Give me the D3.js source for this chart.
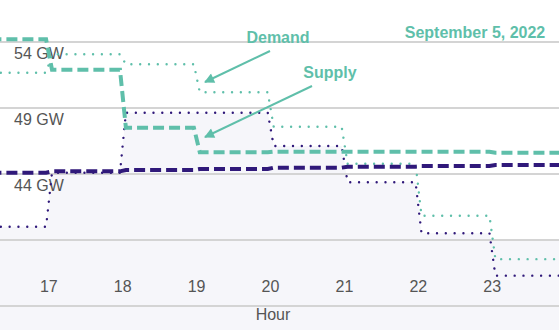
<!DOCTYPE html>
<html>
<head>
<meta charset="utf-8">
<script src="https://cdn.jsdelivr.net/npm/d3@7"></script>
<style>
  html, body { margin: 0; padding: 0; background: #ffffff; }
  svg { display: block; font-family: "Liberation Sans", Arial, Helvetica, sans-serif; }
</style>
</head>
<body>
<svg id="chart" width="559" height="330"></svg>
<script>
// Hourly values, GW (each value holds from its hour to the next)
const hours = [16, 17, 18, 19, 20, 21, 22, 23];
const demand = [51.67, 53.07, 52.31, 50.19, 47.58, 44.78, 40.84, 37.55];
const supply = [40.0, 44.1, 48.64, 48.64, 46.12, 43.37, 39.51, 36.30];
const demandForecast = [54.2, 51.9, 47.51, 45.64, 45.69, 45.69, 45.69, 45.61];
const supplyForecast = [44.10, 44.2, 44.3, 44.38, 44.48, 44.55, 44.6, 44.68];

// Axis ticks
const xTicks = [17, 18, 19, 20, 21, 22, 23];
const xTickLabels = ["17", "18", "19", "20", "21", "22", "23"];
const yGrid = [54, 49, 44, 39, 34];
const yTickValues = [54, 49, 44];
const yTickLabels = ["54 GW", "49 GW", "44 GW"];

const dateLabel = "September 5, 2022";
const xTitle = "Hour";

const TEAL = "#5fbfaa";
const PURPLE = "#30197a";
const TEXT = "#555555";

const W = 559, H = 330;
const svg = d3.select("#chart");

const x = d3.scaleLinear().domain([17, 23]).range([48.3, 491.7]);
const y = d3.scaleLinear().domain([54, 34]).range([42, 306]);

// Step outline with a short ramp around each hour boundary
const RAMP_BEFORE = 0.03, RAMP_AFTER = 0.05;
function stepPoints(vals) {
  const pts = [];
  vals.forEach((v, i) => {
    const h0 = hours[i];
    const h1 = i < hours.length - 1 ? hours[i + 1] : h0 + 1;
    pts.push([i === 0 ? h0 : h0 + RAMP_AFTER, v]);
    pts.push([i === hours.length - 1 ? h1 : h1 - RAMP_BEFORE, v]);
  });
  return pts;
}

const line = d3.line().x(d => x(d[0])).y(d => y(d[1]));
const area = d3.area().x(d => x(d[0])).y0(H).y1(d => y(d[1]));

// Light shading below the supply line and under the hour axis band
svg.append("path")
  .attr("d", area(stepPoints(supply)))
  .attr("fill", "#f6f6fa");
svg.append("rect")
  .attr("x", 0).attr("y", y(39)).attr("width", W).attr("height", H - y(39))
  .attr("fill", "#f6f6fa");

// Horizontal gridlines
svg.append("g").selectAll("line")
  .data(yGrid).join("line")
  .attr("x1", 0).attr("x2", W)
  .attr("y1", d => y(d)).attr("y2", d => y(d))
  .attr("stroke", "#d4d4d4").attr("stroke-width", 2);

// Y labels sit just below their gridline
svg.append("g").selectAll("text")
  .data(yTickValues).join("text")
  .attr("x", 14).attr("y", d => y(d) + 17)
  .attr("fill", TEXT).attr("font-size", 16)
  .text((d, i) => yTickLabels[i]);

// X tick labels
const xAxis = d3.axisBottom(x).tickValues(xTicks)
  .tickFormat((d, i) => xTickLabels[i]).tickSize(0).tickPadding(0);
const gx = svg.append("g").attr("transform", "translate(0,281)").call(xAxis);
gx.select(".domain").remove();
gx.selectAll("text").attr("font-size", 16).attr("fill", TEXT)
  .attr("font-family", "Liberation Sans, Arial, sans-serif");

svg.append("text")
  .attr("x", 273).attr("y", 320).attr("text-anchor", "middle")
  .attr("fill", TEXT).attr("font-size", 16).text(xTitle);

// Series lines: dotted actuals, dashed forecasts
function drawSeries(vals, color, width, dash, cap) {
  svg.append("path").attr("d", line(stepPoints(vals)))
    .attr("fill", "none").attr("stroke", color).attr("stroke-width", width)
    .attr("stroke-dasharray", dash).attr("stroke-linecap", cap);
}
drawSeries(demand, TEAL, 2.4, "0.01,8.8", "round");
drawSeries(supply, PURPLE, 2.4, "0.01,8.8", "round");
drawSeries(demandForecast, TEAL, 4, "11,5", "butt");
drawSeries(supplyForecast, PURPLE, 4, "11,5", "butt");

// Annotations with arrows
const defs = svg.append("defs");
defs.append("marker")
  .attr("id", "arrowhead").attr("viewBox", "0 0 10 10")
  .attr("refX", 9).attr("refY", 5)
  .attr("markerWidth", 6).attr("markerHeight", 5)
  .attr("markerUnits", "strokeWidth")
  .attr("orient", "auto")
  .append("path").attr("d", "M0,0 L10,5 L0,10 Z").attr("fill", TEAL);

const notes = [
  { text: "Demand", tx: 278, ty: 43, from: [270, 51], to: [205, 82] },
  { text: "Supply", tx: 330, ty: 78, from: [312, 86], to: [205, 137] }
];
notes.forEach(n => {
  svg.append("text").attr("x", n.tx).attr("y", n.ty)
    .attr("text-anchor", "middle").attr("font-weight", "bold")
    .attr("font-size", 16).attr("fill", TEAL).text(n.text);
  svg.append("line")
    .attr("x1", n.from[0]).attr("y1", n.from[1])
    .attr("x2", n.to[0]).attr("y2", n.to[1])
    .attr("stroke", TEAL).attr("stroke-width", 2)
    .attr("marker-end", "url(#arrowhead)");
});

svg.append("text").attr("x", 475).attr("y", 38)
  .attr("text-anchor", "middle").attr("font-weight", "bold")
  .attr("font-size", 16).attr("fill", TEAL).text(dateLabel);
</script>
</body>
</html>
